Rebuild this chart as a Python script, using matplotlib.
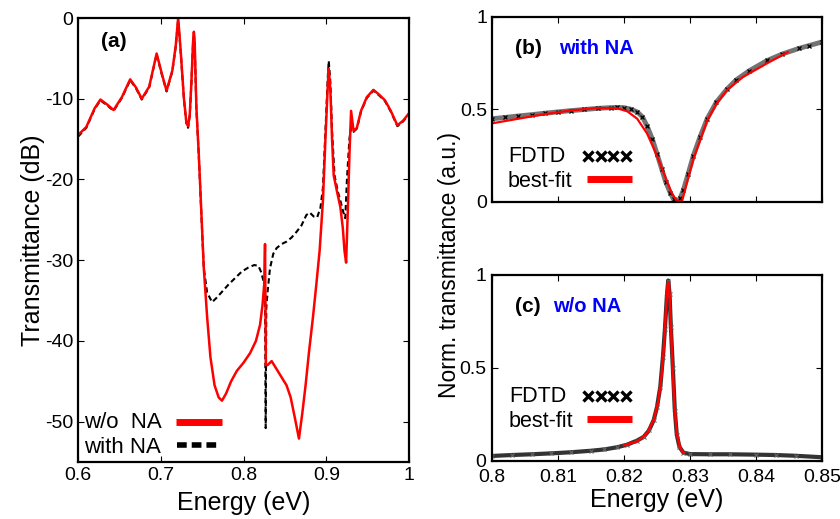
import matplotlib
matplotlib.use("Agg")
import matplotlib.pyplot as plt
from matplotlib.lines import Line2D

plt.rcParams['font.family'] = ['Liberation Sans', 'DejaVu Sans']
plt.rcParams['axes.unicode_minus'] = False

# (a) transmittance spectra, dB
red_e = [0.600, 0.610, 0.620, 0.627, 0.635, 0.643, 0.653, 0.663, 0.670, 0.677,
         0.686, 0.695, 0.701, 0.707, 0.714, 0.718, 0.721, 0.724, 0.728, 0.731,
         0.733, 0.735, 0.737, 0.739, 0.740, 0.741, 0.743, 0.746, 0.749, 0.752,
         0.756, 0.760, 0.765, 0.770, 0.774, 0.779, 0.785, 0.792, 0.800, 0.808,
         0.815, 0.820, 0.823, 0.825, 0.826, 0.8265, 0.827, 0.829, 0.834, 0.840,
         0.846, 0.852, 0.857, 0.862, 0.867, 0.871, 0.875, 0.879, 0.884, 0.888,
         0.892, 0.896, 0.899, 0.902, 0.903, 0.905, 0.907, 0.909, 0.913, 0.917,
         0.920, 0.922, 0.924, 0.926, 0.928, 0.930, 0.933, 0.937, 0.942, 0.949,
         0.957, 0.964, 0.971, 0.978, 0.986, 0.993, 1.000]
red_t = [-14.5, -13.5, -11.2, -10.1, -10.7, -11.4, -9.8, -7.6, -8.6, -10.0,
         -8.5, -4.4, -6.8, -9.0, -6.5, -3.5, 0.0, -4.0, -10.0, -13.0,
         -13.4, -12.0, -8.0, -3.0, -1.7, -3.0, -11.0, -17.0, -24.0, -31.0,
         -37.0, -42.0, -45.5, -47.0, -47.4, -46.5, -45.0, -43.7, -42.7, -41.5,
         -40.0, -38.0, -35.5, -33.0, -28.0, -35.0, -43.0, -43.0, -42.5, -43.5,
         -44.5, -45.5, -47.0, -49.5, -52.1, -49.0, -45.5, -41.5, -37.0, -33.0,
         -28.8, -22.6, -15.0, -8.0, -6.3, -9.0, -15.0, -19.5, -21.5, -23.4,
         -26.0, -28.8, -30.3, -24.0, -17.0, -11.5, -14.0, -13.6, -11.5, -9.8,
         -8.9, -9.5, -10.2, -11.5, -13.3, -12.7, -11.8]

blk_e = [0.600, 0.610, 0.620, 0.627, 0.635, 0.643, 0.653, 0.663, 0.670, 0.677,
         0.686, 0.695, 0.701, 0.707, 0.714, 0.718, 0.721, 0.724, 0.728, 0.731,
         0.733, 0.735, 0.737, 0.739, 0.740, 0.741, 0.743, 0.746, 0.749, 0.752,
         0.756, 0.762, 0.768, 0.775, 0.782, 0.790, 0.798, 0.806, 0.813, 0.818,
         0.821, 0.824, 0.826, 0.8268, 0.8275, 0.829, 0.832, 0.836, 0.840, 0.846,
         0.852, 0.858, 0.864, 0.870, 0.876, 0.880, 0.885, 0.889, 0.893, 0.896,
         0.899, 0.902, 0.903, 0.905, 0.907, 0.910, 0.914, 0.918, 0.921, 0.923,
         0.925, 0.928, 0.930, 0.933, 0.937, 0.942, 0.949, 0.957, 0.964, 0.971,
         0.978, 0.986, 0.993, 1.000]
blk_t = [-14.7, -13.6, -11.3, -10.2, -10.8, -11.5, -9.9, -7.7, -8.7, -10.1,
         -8.6, -4.5, -6.9, -9.1, -6.6, -3.6, -0.2, -4.1, -10.1, -13.1,
         -13.6, -12.1, -8.1, -3.1, -1.9, -3.2, -11.2, -17.2, -24.2, -31.0,
         -34.0, -35.2, -34.6, -33.8, -33.0, -32.2, -31.4, -30.9, -30.6, -30.7,
         -31.4, -32.5, -33.5, -50.8, -36.0, -34.0, -31.0, -29.2, -28.5, -28.0,
         -27.7, -27.2, -26.5, -25.7, -24.4, -24.1, -24.6, -24.7, -23.5, -21.0,
         -14.0, -7.0, -5.3, -8.0, -14.0, -19.5, -21.5, -23.0, -24.2, -24.8,
         -20.0, -15.0, -13.6, -14.1, -13.7, -11.6, -9.9, -9.0, -9.6, -10.3,
         -11.6, -13.4, -12.8, -11.9]

# (b) with NA: FDTD and best fit
b_fdtd_e = [0.800, 0.802, 0.804, 0.806, 0.808, 0.810, 0.812, 0.814, 0.816, 0.818,
            0.819, 0.820, 0.821, 0.822, 0.8228, 0.8235, 0.8243, 0.825, 0.8257, 0.8263,
            0.827, 0.8275, 0.828, 0.8285, 0.829, 0.8297, 0.8305, 0.8315, 0.8326, 0.834,
            0.8356, 0.837, 0.839, 0.8417, 0.844, 0.8465, 0.848, 0.850]
b_fdtd_t = [0.45, 0.457, 0.465, 0.472, 0.48, 0.487, 0.494, 0.50, 0.506, 0.51,
            0.511, 0.51, 0.502, 0.487, 0.46, 0.41, 0.34, 0.26, 0.18, 0.11,
            0.05, 0.015, 0.0, 0.02, 0.065, 0.15, 0.25, 0.35, 0.45, 0.54,
            0.61, 0.66, 0.71, 0.765, 0.80, 0.83, 0.845, 0.865]
b_fit_e = [0.800, 0.804, 0.808, 0.812, 0.816, 0.819, 0.8205, 0.822, 0.8235, 0.825,
           0.8262, 0.8272, 0.828, 0.8288, 0.8295, 0.8305, 0.8316, 0.8326, 0.834, 0.8356,
           0.838, 0.8417, 0.8448]
b_fit_t = [0.425, 0.45, 0.475, 0.495, 0.508, 0.506, 0.49, 0.45, 0.37, 0.25,
           0.14, 0.05, 0.005, 0.005, 0.10, 0.23, 0.34, 0.44, 0.53, 0.605,
           0.675, 0.75, 0.81]

# (c) w/o NA: FDTD and best fit
c_fdtd_e = [0.800, 0.803, 0.806, 0.809, 0.812, 0.815, 0.817, 0.819, 0.8205, 0.822,
            0.823, 0.8238, 0.8245, 0.825, 0.8255, 0.8259, 0.8262, 0.8265, 0.8267, 0.8269,
            0.8271, 0.8274, 0.8277, 0.828, 0.8284, 0.829, 0.830, 0.833, 0.836, 0.840,
            0.843, 0.846, 0.850]
c_fdtd_t = [0.027, 0.032, 0.036, 0.041, 0.047, 0.055, 0.062, 0.074, 0.088, 0.11,
            0.13, 0.165, 0.22, 0.29, 0.40, 0.56, 0.71, 0.89, 0.97, 0.90,
            0.72, 0.50, 0.27, 0.14, 0.075, 0.045, 0.037, 0.036, 0.036, 0.034,
            0.032, 0.028, 0.02]
c_fit_e = [0.820, 0.822, 0.8235, 0.8245, 0.8252, 0.8257, 0.8261, 0.8264, 0.8266, 0.8268,
           0.827, 0.8273, 0.8276, 0.828, 0.8285, 0.829]
c_fit_t = [0.085, 0.105, 0.15, 0.22, 0.32, 0.46, 0.64, 0.84, 0.95, 0.96,
           0.82, 0.56, 0.32, 0.15, 0.07, 0.045]

W, H = 840, 519
fig = plt.figure(figsize=(8.4, 5.19), dpi=100)
ax_a = fig.add_axes([0.0929, 0.1098, 0.394, 0.8555])
ax_b = fig.add_axes([0.5857, 0.6108, 0.3929, 0.3565])
ax_c = fig.add_axes([0.5857, 0.1118, 0.3929, 0.3584])


def fx(px):
    return px / W


def fy(py):
    return 1 - py / H


def key_text(px, py, s, size):
    fig.text(fx(px), fy(py), s, fontsize=size, ha='left', va='baseline')


def key_line(x0, x1, py, **kw):
    fig.add_artist(Line2D([fx(x0), fx(x1)], [fy(py), fy(py)],
                          transform=fig.transFigure, **kw))


def key_marks(x0, x1, py):
    xs = [fx(x0 + i * (x1 - x0) / 3) for i in range(4)]
    fig.add_artist(Line2D(xs, [fy(py)] * 4, transform=fig.transFigure, ls='none',
                          marker='x', ms=6.5, mew=2.4, color='black'))


for ax in (ax_a, ax_b, ax_c):
    ax.tick_params(direction='in', top=True, right=True, labelsize=14, length=4, width=0.8)
    for s in ax.spines.values():
        s.set_linewidth(1.6)

# panel (a)
ax_a.plot(blk_e, blk_t, color='black', lw=1.5, dashes=(2.6, 1.6))
ax_a.plot(red_e, red_t, color='red', lw=1.8)
ax_a.set_xlim(0.6, 1.0)
ax_a.set_ylim(-55, 0)
ax_a.set_xticks([0.6, 0.7, 0.8, 0.9, 1.0])
ax_a.set_xticklabels(['0.6', '0.7', '0.8', '0.9', '1'])
ax_a.set_yticks([0, -10, -20, -30, -40, -50])
ax_a.set_xlabel('Energy (eV)', fontsize=18, labelpad=5)
ax_a.set_ylabel('Transmittance (dB)', fontsize=18, labelpad=0)
ax_a.text(0.07, 0.935, '(a)', transform=ax_a.transAxes, fontsize=15, fontweight='bold')

key_text(84, 428, 'w/o  NA', 16)
key_text(84, 453, 'with NA', 16)
key_line(176, 222, 422, color='red', lw=5, solid_capstyle='butt')
key_line(177, 217, 445, color='black', lw=4, dashes=(1.75, 0.9), dash_capstyle='butt')

# panel (b)
ax_b.plot(b_fdtd_e, b_fdtd_t, color='0.45', lw=3.5)
ax_b.plot(b_fdtd_e, b_fdtd_t, ls='none', marker='x', ms=3.5, mew=0.9, color='black')
ax_b.plot(b_fit_e, b_fit_t, color='red', lw=1.6)
ax_b.set_xlim(0.8, 0.85)
ax_b.set_ylim(0, 1)
ax_b.set_yticks([0, 0.5, 1])
ax_b.set_yticklabels(['0', '0.5', '1'])
ax_b.set_xticks([0.8, 0.81, 0.82, 0.83, 0.84, 0.85])
ax_b.set_xticklabels([])
ax_b.text(0.07, 0.8, '(b)', transform=ax_b.transAxes, fontsize=15, fontweight='bold')
ax_b.text(0.203, 0.8, 'with NA', transform=ax_b.transAxes, fontsize=14.5,
          fontweight='bold', color='blue')

key_text(508, 162, 'FDTD', 15.5)
key_text(508, 187, 'best-fit', 15.5)
key_marks(588, 626, 156)
key_line(587, 632, 179, color='red', lw=5, solid_capstyle='butt')

# panel (c)
ax_c.plot(c_fdtd_e, c_fdtd_t, color='0.2', lw=3)
ax_c.plot(c_fdtd_e, c_fdtd_t, ls='none', marker='x', ms=3.5, mew=0.8, color='0.4')
ax_c.plot(c_fit_e, c_fit_t, color='red', lw=1.8)
ax_c.set_xlim(0.8, 0.85)
ax_c.set_ylim(0, 1)
ax_c.set_yticks([0, 0.5, 1])
ax_c.set_yticklabels(['0', '0.5', '1'])
ax_c.set_xticks([0.8, 0.81, 0.82, 0.83, 0.84, 0.85])
ax_c.set_xticklabels(['0.8', '0.81', '0.82', '0.83', '0.84', '0.85'])
ax_c.tick_params(axis='x', pad=6)
ax_c.tick_params(axis='y', pad=4)
ax_c.set_xlabel('Energy (eV)', fontsize=18, labelpad=1)
ax_c.text(0.07, 0.8, '(c)', transform=ax_c.transAxes, fontsize=15, fontweight='bold')
ax_c.text(0.185, 0.8, 'w/o NA', transform=ax_c.transAxes, fontsize=14.5,
          fontweight='bold', color='blue')

key_text(509, 402, 'FDTD', 15.5)
key_text(509, 427, 'best-fit', 15.5)
key_marks(588, 626, 396)
key_line(587, 632, 419, color='red', lw=5, solid_capstyle='butt')

fig.text(0.535, 0.49, 'Norm. transmittance (a.u.)', rotation=90, fontsize=16.5,
         ha='center', va='center')

fig.savefig('out.png', dpi=100)
